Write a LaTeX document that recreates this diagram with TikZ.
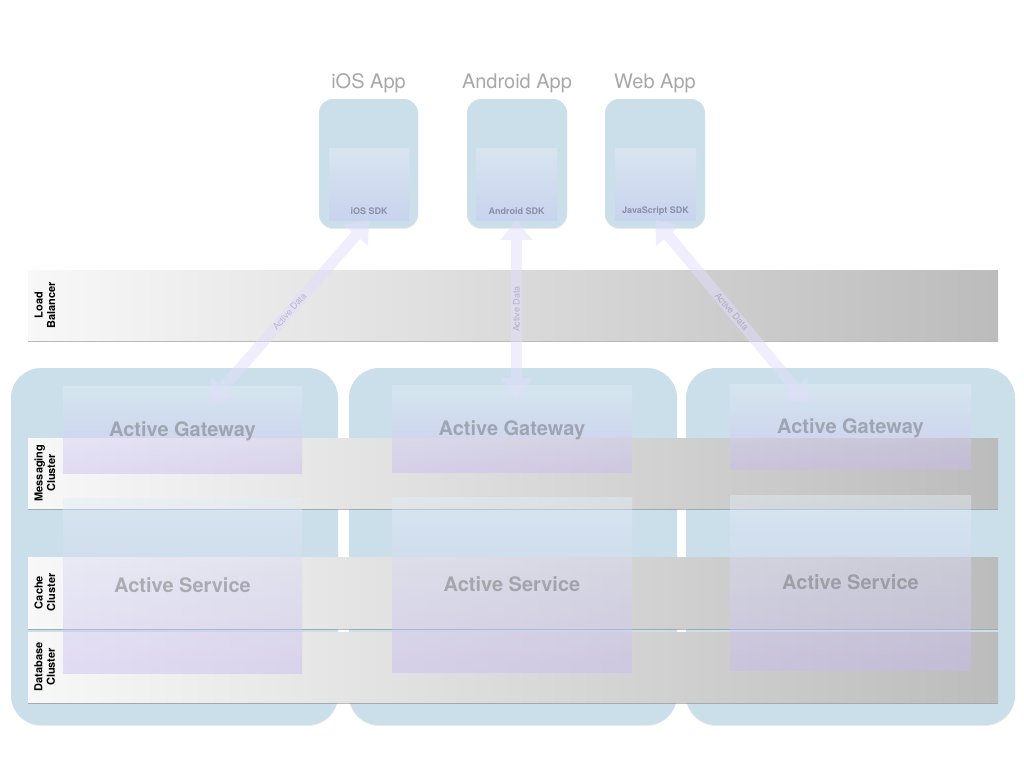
\documentclass[tikz,border=0pt]{standalone}
\usepackage{fontspec}
\setmainfont{TeX Gyre Heros}
\usetikzlibrary{positioning, arrows.meta, calc, shadows}

\definecolor{clusterblue}{RGB}{203,223,234}
\definecolor{sdktop}{RGB}{216,229,238}
\definecolor{sdkbottom}{RGB}{200,211,238}
\definecolor{barlight}{RGB}{248,248,248}
\definecolor{bardark}{RGB}{188,188,188}
\definecolor{boxtop}{RGB}{226,238,246}
\definecolor{boxbottom}{RGB}{200,186,240}
\definecolor{arrowlav}{RGB}{226,222,252}
\definecolor{datagray}{RGB}{140,135,190}
\definecolor{sdkgray}{RGB}{138,143,165}
\definecolor{applabelgray}{RGB}{168,168,168}

\begin{document}
\begin{tikzpicture}[
    x=1pt, y=-1pt, >=Triangle,
    cluster/.style={rectangle, rounded corners=30pt, fill=clusterblue, minimum height=357pt,
      drop shadow={shadow xshift=0pt, shadow yshift=-1pt, opacity=0.15}},
    appbox/.style={rectangle, rounded corners=14pt, fill=clusterblue, minimum width=100pt, minimum height=129pt,
      drop shadow={shadow xshift=0pt, shadow yshift=-1pt, opacity=0.15}},
    sdkbox/.style={rectangle, top color=sdktop, bottom color=sdkbottom, minimum width=81pt, minimum height=72pt,
      drop shadow={shadow xshift=0pt, shadow yshift=-0.8pt, opacity=0.15}},
    layerbar/.style={rectangle, left color=barlight, right color=bardark, minimum width=970pt, minimum height=70pt,
      drop shadow={shadow xshift=0pt, shadow yshift=-1.5pt, opacity=0.55}},
    activebox/.style={rectangle, top color=boxtop, bottom color=boxbottom, fill opacity=0.45, minimum width=240pt,
      text=black!60, text opacity=0.45, font=\bfseries\fontsize{20}{24}\selectfont, text height=18pt, text depth=4pt},
    applabel/.style={text=applabelgray, font=\fontsize{20}{24}\selectfont},
    sdklabel/.style={text=sdkgray, font=\bfseries\fontsize{9}{11}\selectfont, inner sep=1pt},
    barlabel/.style={rotate=90, align=center, font=\bfseries\fontsize{11}{12.5}\selectfont},
    dataflow/.style={line width=11pt, draw=arrowlav, {Triangle[width=31pt,length=20pt]}-{Triangle[width=31pt,length=20pt]}},
    datalabel/.style={text=datagray, font=\fontsize{9}{11}\selectfont, inner sep=0pt},
  ]
  \useasboundingbox (0,0) rectangle (1024,768);

  % clusters
  \node[cluster, minimum width=327pt] (clusterA) at (174.5,546.5) {};
  \node[cluster, minimum width=328pt] (clusterB) at (513,546.5) {};
  \node[cluster, minimum width=329pt] (clusterC) at (850.5,546.5) {};

  % layers
  \node[layerbar] (loadbal) at (513,305) {};
  \node[layerbar] (msgbar)  at (513,473) {};
  \node[layerbar, minimum height=71pt] (cachebar) at (513,592.5) {};
  \node[layerbar] (dbbar)   at (513,667) {};
  \node[barlabel] (loadbaltext)  at ([xshift=17pt]loadbal.west)  {Load\\Balancer};
  \node[barlabel] (msgbartext)   at ([xshift=17pt]msgbar.west)   {Messaging\\Cluster};
  \node[barlabel] (cachebartext) at ([xshift=17pt]cachebar.west) {Cache\\Cluster};
  \node[barlabel] (dbbartext)    at ([xshift=17pt]dbbar.west)    {Database\\Cluster};

  % gateways and services
  \node[activebox, minimum width=239pt, minimum height=87pt]  (gwA) at (182.5,429.5) {Active Gateway};
  \node[activebox, minimum height=87pt]                        (gwB) at (512,428.5)   {Active Gateway};
  \node[activebox, minimum width=241pt, minimum height=85pt]  (gwC) at (850.5,426.5) {Active Gateway};
  \node[activebox, minimum width=239pt, minimum height=175pt] (svA) at (182.5,585.5) {Active Service};
  \node[activebox, minimum height=175pt]                       (svB) at (512,584.5)   {Active Service};
  \node[activebox, minimum width=241pt, minimum height=175pt] (svC) at (850.5,582.5) {Active Service};

  % apps
  \node[appbox, minimum width=99pt] (iosapp) at (368.5,163.5) {};
  \node[appbox] (andapp) at (517,163.5) {};
  \node[appbox] (webapp) at (655,163.5) {};
  \node[applabel] (iosapptext) at (368.5,83) {iOS App};
  \node[applabel] (andapptext) at (517,83)   {Android App};
  \node[applabel] (webapptext) at (655,83)   {Web App};
  \node[sdkbox, minimum width=80pt] (iossdk) at (369,184) {};
  \node[sdkbox] (andsdk) at (516.5,184) {};
  \node[sdkbox] (websdk) at (655.5,184) {};
  \node[sdklabel, above=4pt of iossdk.south] (iossdktext) {iOS SDK};
  \node[sdklabel, above=4pt of andsdk.south] (andsdktext) {Android SDK};
  \node[sdklabel, above=4pt of websdk.south] (websdktext) {JavaScript SDK};

  % data flows
  \coordinate (iosend) at (210,403);
  \coordinate (andend) at (516.5,398);
  \coordinate (webend) at (808,403);
  \begin{scope}[transparency group, opacity=0.5]
    \draw[dataflow] (iossdk.south) -- (iosend) node[datalabel, midway, rotate=49] {Active Data};
    \draw[dataflow] (andsdk.south) -- (andend) node[datalabel, midway, rotate=90] {Active Data};
    \draw[dataflow] (websdk.south) -- (webend) node[datalabel, midway, rotate=-49] {Active Data};
  \end{scope}
\end{tikzpicture}
\end{document}
